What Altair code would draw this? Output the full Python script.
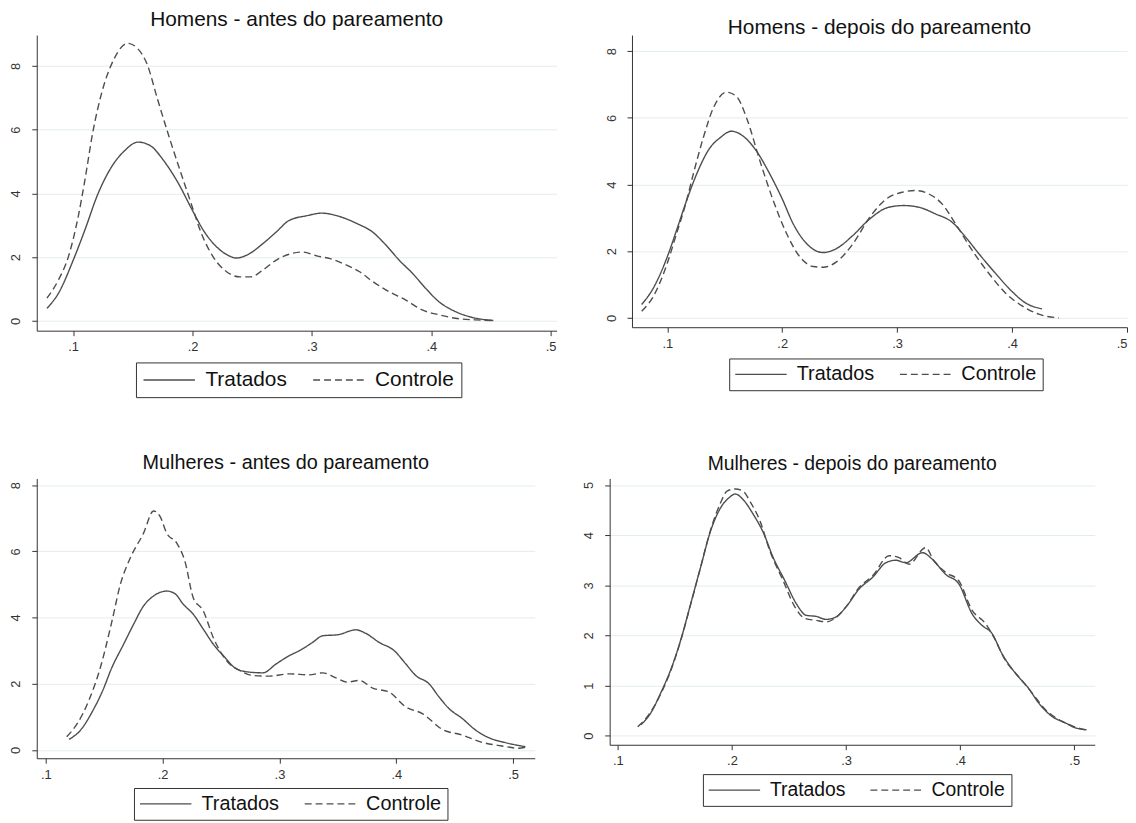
import altair as alt
import pandas as pd

GROUPS = ["Tratados", "Controle"]
X_TICKS = [0.1, 0.2, 0.3, 0.4, 0.5]

# ---------- Homens - antes do pareamento ----------
ha_trat_x = [0.078, 0.0876, 0.1, 0.1097, 0.1207, 0.1318, 0.1428, 0.1544, 0.1649, 0.176, 0.187, 0.2, 0.2091,
             0.2202, 0.2312, 0.2367, 0.2478, 0.2588, 0.2699, 0.2809, 0.2959, 0.3083, 0.3235, 0.3373, 0.3511,
             0.3622, 0.3732, 0.3843, 0.3953, 0.4064, 0.4202, 0.434, 0.452]
ha_trat_y = [0.39, 0.86, 1.90, 2.84, 3.98, 4.81, 5.33, 5.61, 5.49, 5.02, 4.39, 3.46, 2.84,
             2.32, 2.03, 1.97, 2.11, 2.42, 2.78, 3.15, 3.30, 3.38, 3.27, 3.06, 2.78,
             2.37, 1.90, 1.49, 1.02, 0.60, 0.29, 0.11, 0.01]
ha_ctrl_x = [0.078, 0.0876, 0.0959, 0.1041, 0.1097, 0.1166, 0.1235, 0.1345, 0.1456, 0.1539, 0.1622, 0.1704,
             0.1815, 0.1925, 0.2, 0.2064, 0.2174, 0.2285, 0.2395, 0.2492, 0.2588, 0.2699, 0.2809, 0.2917,
             0.3041, 0.3152, 0.329, 0.34, 0.3511, 0.3649, 0.3787, 0.3925, 0.4064, 0.4202, 0.4367, 0.452]
ha_ctrl_y = [0.71, 1.28, 2.0, 3.25, 4.39, 5.95, 7.10, 8.24, 8.71, 8.55, 8.03, 6.99,
             5.64, 4.39, 3.55, 2.84, 2.0, 1.54, 1.38, 1.38, 1.59, 1.90, 2.09, 2.16,
             2.04, 1.95, 1.75, 1.54, 1.23, 0.91, 0.65, 0.34, 0.19, 0.08, 0.03, 0.01]

# ---------- Homens - depois do pareamento ----------
hd_trat_x = [0.0777, 0.0878, 0.1, 0.1081, 0.1168, 0.1255, 0.1371, 0.1458, 0.1559, 0.1661, 0.1777, 0.1893,
             0.2, 0.2096, 0.2212, 0.2357, 0.2472, 0.2617, 0.2762, 0.2928, 0.3058, 0.3188, 0.3333, 0.3478,
             0.3594, 0.371, 0.3855, 0.4, 0.4116, 0.4261]
hd_trat_y = [0.40, 0.89, 1.83, 2.63, 3.52, 4.31, 5.10, 5.40, 5.60, 5.45, 5.0, 4.31,
             3.57, 2.82, 2.23, 1.96, 2.08, 2.48, 2.97, 3.32, 3.37, 3.32, 3.12, 2.87,
             2.43, 1.93, 1.34, 0.79, 0.45, 0.27]
hd_ctrl_x = [0.0777, 0.0878, 0.1, 0.1081, 0.1168, 0.1226, 0.1313, 0.14, 0.1516, 0.1603, 0.169, 0.1806,
             0.1922, 0.2038, 0.2154, 0.227, 0.2357, 0.2472, 0.2617, 0.2762, 0.2907, 0.3043, 0.3159, 0.3275,
             0.3391, 0.3507, 0.3652, 0.3797, 0.3942, 0.4087, 0.4232, 0.4406]
hd_ctrl_y = [0.20, 0.64, 1.64, 2.53, 3.52, 4.31, 5.40, 6.29, 6.77, 6.64, 6.0, 4.71,
             3.52, 2.53, 1.83, 1.54, 1.52, 1.68, 2.23, 3.02, 3.57, 3.77, 3.82, 3.72,
             3.42, 2.83, 2.03, 1.34, 0.75, 0.36, 0.11, 0.0]

# ---------- Mulheres - antes do pareamento ----------
ma_trat_x = [0.1199, 0.1298, 0.1397, 0.1482, 0.1567, 0.1667, 0.1752, 0.1837, 0.1922, 0.2035, 0.2106, 0.2177,
             0.2262, 0.2348, 0.2433, 0.2532, 0.2631, 0.2745, 0.2858, 0.2972, 0.3085, 0.3171, 0.3284, 0.337,
             0.3498, 0.3654, 0.374, 0.3853, 0.3982, 0.4081, 0.4166, 0.428, 0.4366, 0.4451, 0.4565, 0.4679,
             0.4792, 0.4935, 0.5105]
ma_trat_y = [0.32, 0.60, 1.15, 1.75, 2.50, 3.20, 3.80, 4.35, 4.65, 4.80, 4.72, 4.40,
             4.10, 3.65, 3.20, 2.80, 2.45, 2.35, 2.33, 2.60, 2.85, 3.0, 3.25, 3.45,
             3.48, 3.63, 3.52, 3.25, 3.0, 2.60, 2.25, 2.0, 1.60, 1.25, 0.95, 0.60,
             0.37, 0.22, 0.10]
ma_ctrl_x = [0.1179, 0.127, 0.1369, 0.1468, 0.1567, 0.1638, 0.1723, 0.1837, 0.1922, 0.1979, 0.2035, 0.2121,
             0.2191, 0.2262, 0.2348, 0.2433, 0.2546, 0.266, 0.2773, 0.2915, 0.3085, 0.3256, 0.337, 0.3484,
             0.3583, 0.3683, 0.3797, 0.3939, 0.4081, 0.4223, 0.4394, 0.4565, 0.4735, 0.4906, 0.5048, 0.5119]
ma_ctrl_y = [0.40, 0.80, 1.50, 2.50, 3.90, 5.00, 5.80, 6.55, 7.22, 7.05, 6.55, 6.25,
             5.70, 4.60, 4.20, 3.40, 2.70, 2.40, 2.25, 2.23, 2.30, 2.27, 2.33, 2.18,
             2.05, 2.10, 1.87, 1.75, 1.30, 1.10, 0.62, 0.45, 0.23, 0.12, 0.05, 0.10]

# ---------- Mulheres - depois do pareamento ----------
md_trat_x = [0.1203, 0.129, 0.1377, 0.1464, 0.1551, 0.1638, 0.1725, 0.1812, 0.1899, 0.1971, 0.2029, 0.2101,
             0.2188, 0.2275, 0.2362, 0.2464, 0.2565, 0.2652, 0.2739, 0.2826, 0.2913, 0.3, 0.3116, 0.3233,
             0.3349, 0.3436, 0.3523, 0.3669, 0.3756, 0.3872, 0.3988, 0.4105, 0.4192, 0.4279, 0.4366, 0.4483,
             0.4599, 0.4686, 0.4802, 0.4919, 0.5006, 0.5108]
md_trat_y = [0.22, 0.46, 0.86, 1.32, 1.91, 2.63, 3.36, 4.08, 4.54, 4.74, 4.82, 4.70,
             4.41, 4.05, 3.55, 3.09, 2.63, 2.40, 2.38, 2.32, 2.37, 2.57, 2.93, 3.16,
             3.45, 3.50, 3.45, 3.65, 3.52, 3.22, 3.03, 2.43, 2.20, 2.04, 1.64, 1.25,
             0.95, 0.66, 0.39, 0.26, 0.16, 0.12]
md_ctrl_x = [0.1174, 0.1261, 0.1377, 0.1464, 0.1551, 0.1638, 0.1725, 0.1812, 0.1899, 0.1957, 0.2029, 0.2101,
             0.2159, 0.2246, 0.2333, 0.2449, 0.2551, 0.2638, 0.2739, 0.2826, 0.2913, 0.3, 0.3116, 0.3233,
             0.3378, 0.3465, 0.3552, 0.3698, 0.377, 0.3872, 0.3988, 0.4105, 0.4221, 0.4294, 0.4395, 0.4512,
             0.4628, 0.4744, 0.486, 0.4977, 0.5093]
md_ctrl_y = [0.18, 0.39, 0.84, 1.30, 1.90, 2.62, 3.36, 4.10, 4.64, 4.88, 4.92, 4.87,
             4.67, 4.28, 3.68, 3.09, 2.57, 2.34, 2.30, 2.27, 2.36, 2.57, 2.96, 3.19,
             3.59, 3.55, 3.42, 3.75, 3.49, 3.26, 3.09, 2.50, 2.24, 1.97, 1.51, 1.18,
             0.86, 0.53, 0.33, 0.20, 0.12]

LINE = "#4d4d4d"
FONT = "Liberation Sans"


def frame(tx, ty, cx, cy):
    return pd.DataFrame({
        "x": tx + cx,
        "y": ty + cy,
        "grupo": ["Tratados"] * len(tx) + ["Controle"] * len(cx),
    })


def panel(df, title, xdom, ydom, yvals, w, h, lx, ly, lpad, toff, tfs, lfs):
    return alt.Chart(df).mark_line(strokeWidth=1.4, color=LINE, interpolate="monotone").encode(
        x=alt.X("x:Q",
                scale=alt.Scale(domain=xdom, nice=False, zero=False),
                axis=alt.Axis(values=X_TICKS, title=None, grid=False,
                              labelExpr="replace(format(datum.value, '.1f'), '0.', '.')",
                              tickSize=5, labelPadding=5, labelFontSize=13)),
        y=alt.Y("y:Q",
                scale=alt.Scale(domain=ydom, nice=False, zero=False),
                axis=alt.Axis(values=yvals, title=None, grid=True, labelAngle=270,
                              labelAlign="center", labelBaseline="bottom", format="d",
                              tickSize=5, labelPadding=9, labelFontSize=13)),
        strokeDash=alt.StrokeDash(
            "grupo:N",
            scale=alt.Scale(domain=GROUPS, range=[[1, 0], [7, 4]]),
            legend=alt.Legend(orient="none", legendX=lx, legendY=ly, direction="horizontal",
                              title=None, strokeColor="#333333", fillColor="white", padding=lpad,
                              symbolType="M-3.7,0H3.7", symbolSize=196, symbolStrokeWidth=1.4,
                              symbolStrokeColor=LINE, symbolOffset=16, labelOffset=26,
                              labelFontSize=lfs, labelColor="#111111", columnPadding=22,
                              labelFont=FONT)),
    ).properties(
        width=w, height=h,
        title=alt.TitleParams(title, fontSize=tfs, font=FONT, fontWeight="normal",
                              color="#111111", offset=toff, anchor="middle"),
    )


p1 = panel(frame(ha_trat_x, ha_trat_y, ha_ctrl_x, ha_ctrl_y), "Homens - antes do pareamento",
           [0.0695, 0.505], [-0.31, 8.97], [0, 2, 4, 6, 8], 524, 298,
           100, 330, 7, 5, 21, 21)
p2 = panel(frame(hd_trat_x, hd_trat_y, hd_ctrl_x, hd_ctrl_y), "Homens - depois do pareamento",
           [0.0693, 0.5], [-0.28, 8.485], [0, 2, 4, 6, 8], 499, 294.5,
           98, 326, 6, -3, 21, 20)
p3 = panel(frame(ma_trat_x, ma_trat_y, ma_ctrl_x, ma_ctrl_y), "Mulheres - antes do pareamento",
           [0.0923, 0.5185], [-0.25, 8.2], [0, 2, 4, 6, 8], 502, 282,
           98, 312, 6, 6, 20, 20)
p4 = panel(frame(md_trat_x, md_trat_y, md_ctrl_x, md_ctrl_y), "Mulheres - depois do pareamento",
           [0.0928, 0.518], [-0.18, 5.13], [0, 1, 2, 3, 4, 5], 489, 268.4,
           94, 298, 6, 4, 19.5, 19.5)

top_row = alt.hconcat(p1, p2, bounds="flush", spacing=76).resolve_scale(
    strokeDash="independent").resolve_legend(strokeDash="independent")
bottom_row = alt.hconcat(p3, p4, bounds="flush", spacing=75.5).resolve_scale(
    strokeDash="independent").resolve_legend(strokeDash="independent")

chart = alt.vconcat(
    top_row, bottom_row, spacing=55,
).resolve_scale(
    strokeDash="independent"
).resolve_legend(
    strokeDash="independent"
).properties(
    padding={"left": 2, "top": -2, "right": 0, "bottom": 0},
    background="white",
).configure_view(
    stroke=None
).configure_axis(
    domainColor="#333333", tickColor="#333333", labelColor="#333333",
    gridColor="#e3eded", gridWidth=1, labelFont=FONT, domainWidth=1,
)

chart.save("out.html", embed_options={"renderer": "svg", "actions": False})
